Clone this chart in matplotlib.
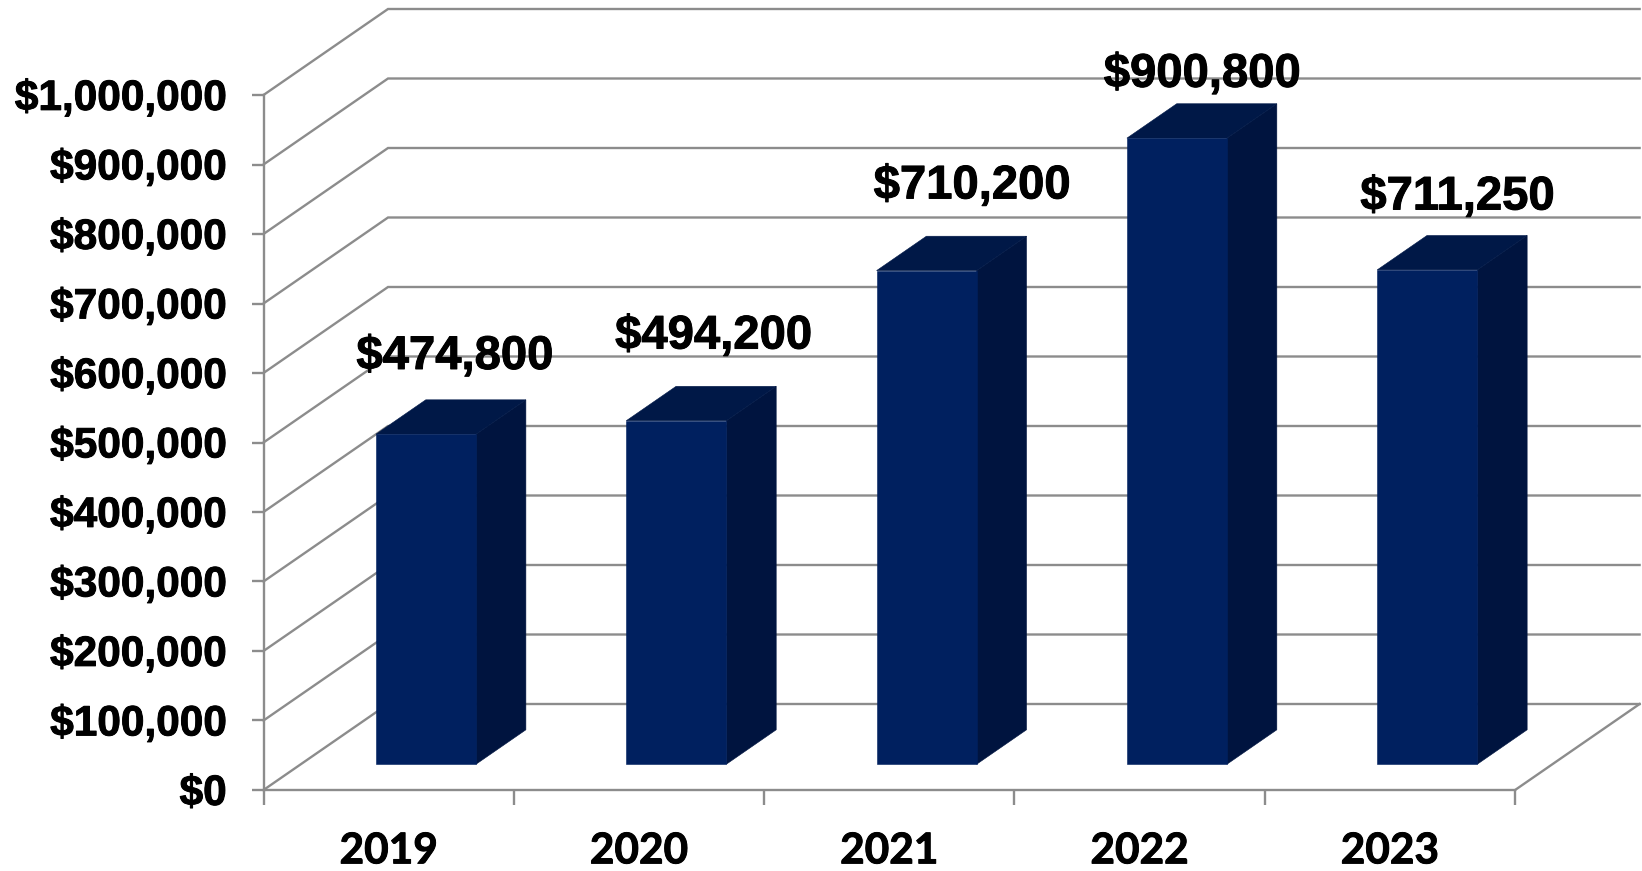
import matplotlib
matplotlib.use("Agg")
import matplotlib.pyplot as plt
import matplotlib.patheffects as pe
from matplotlib.transforms import ScaledTranslation

# data
years = ["2019", "2020", "2021", "2022", "2023"]
amounts = [474800, 494200, 710200, 900800, 711250]
y_ticks = [0, 100000, 200000, 300000, 400000, 500000, 600000, 700000, 800000, 900000, 1000000]

# label shift from bar top (points)
label_dx = [21, 27, 33, 18.5, 22]
label_dy = [15, 20, 20, 5, 11.5]

# oblique projection of the 3d box
depth_x = 0.4974
depth_y = 123740
bar_width = 0.40
near = 0.30
far = 0.70

grid_color = "#8c8c8c"
front_color = "#00205f"
side_color = "#00143f"
top_color = "#001847"

plt.rcParams["font.family"] = ["Liberation Sans", "DejaVu Sans"]
fig = plt.figure(figsize=(16.42, 8.71), dpi=100)
ax = fig.add_axes([0, 0, 1, 1])
ax.set_xlim(-1.0527, 5.507)
ax.set_ylim(-116547, 1136691)
ax.patch.set_visible(False)

# thicken the bold faces a little
heavy = [pe.withStroke(linewidth=0.7, foreground="black")]


def project(x, y, d):
    return x + d * depth_x, y + d * depth_y


# walls and floor
for v in y_ticks:
    xs = [0, depth_x, 5 + depth_x]
    ys = [v, v + depth_y, v + depth_y]
    ax.plot(xs, ys, color=grid_color, lw=1.7, zorder=1, solid_joinstyle="miter")
ax.plot([5, 5 + depth_x], [0, depth_y], color=grid_color, lw=1.7, zorder=1)

# bars
for i, val in enumerate(amounts):
    x0 = i + (1 - bar_width) / 2
    x1 = x0 + bar_width
    corners = [
        (side_color, [(x1, 0, near), (x1, 0, far), (x1, val, far), (x1, val, near)]),
        (top_color, [(x0, val, near), (x1, val, near), (x1, val, far), (x0, val, far)]),
        (front_color, [(x0, 0, near), (x1, 0, near), (x1, val, near), (x0, val, near)]),
    ]
    for color, face in corners:
        pts = [project(*c) for c in face]
        ax.fill([p[0] for p in pts], [p[1] for p in pts], facecolor=color,
                edgecolor=color, lw=0.4, zorder=3)
    lx, ly = project(i + 0.5, val, far)
    ax.annotate(f"${val:,}", (lx, ly), xytext=(label_dx[i] - 36, label_dy[i]),
                textcoords="offset points", ha="center", va="bottom",
                fontsize=34, fontweight="bold", color="black", zorder=5,
                path_effects=heavy)

# axes
for name in ["top", "right"]:
    ax.spines[name].set_visible(False)
ax.spines["left"].set_position(("data", 0))
ax.spines["left"].set_bounds(0, 1000000)
ax.spines["bottom"].set_position(("data", 0))
ax.spines["bottom"].set_bounds(0, 5)
for name in ["left", "bottom"]:
    ax.spines[name].set_color(grid_color)
    ax.spines[name].set_linewidth(1.7)

ax.set_yticks(y_ticks)
ax.set_yticklabels([f"${v:,}" for v in y_ticks], fontsize=30.5, fontweight="bold", va="center")
ax.tick_params(axis="y", length=8.5, width=1.7, color=grid_color, pad=18)
shift = ScaledTranslation(0, -2.8 / 72, fig.dpi_scale_trans)
for lab in ax.get_yticklabels():
    lab.set_transform(lab.get_transform() + shift)
    lab.set_path_effects(heavy)

ax.set_xticks(range(6))
ax.set_xticklabels([])
ax.tick_params(axis="x", which="major", length=11, width=1.7, color=grid_color)
ax.set_xticks([i + 0.5 for i in range(5)], minor=True)
ax.set_xticklabels(years, minor=True, fontsize=30.5, fontweight="bold", family=["Lato", "DejaVu Sans"])
ax.tick_params(axis="x", which="minor", length=0, pad=30.5)
for lab in ax.get_xticklabels(minor=True):
    lab.set_path_effects(heavy)

fig.savefig("out.png", dpi=100, facecolor="white")
